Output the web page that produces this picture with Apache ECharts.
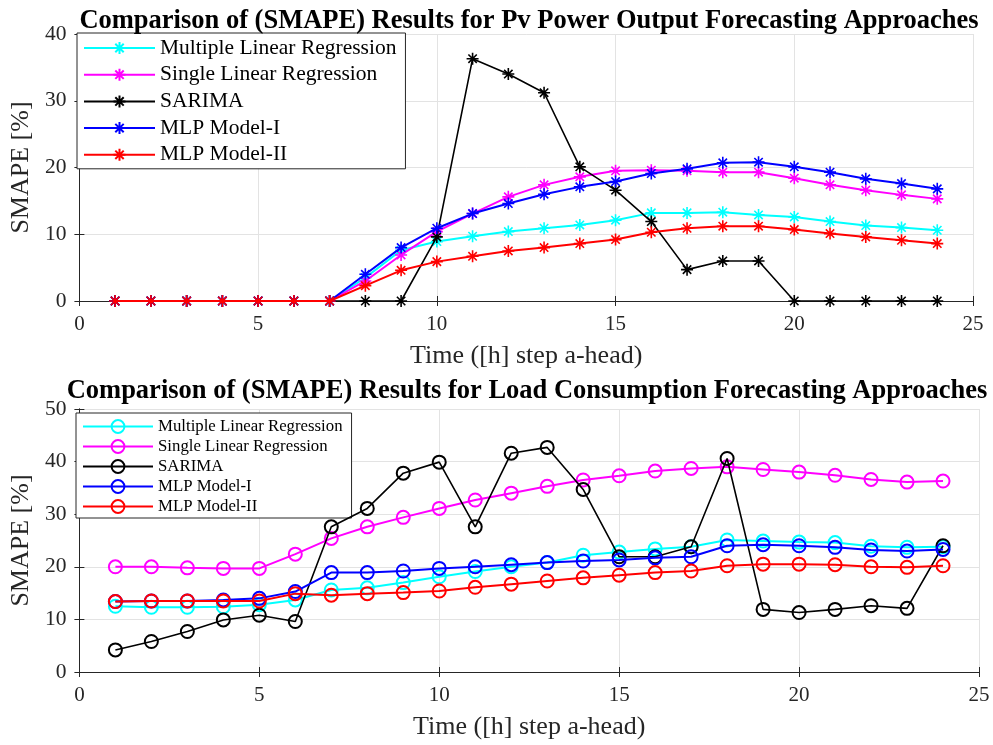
<!DOCTYPE html>
<html>
<head>
<meta charset="utf-8">
<script src="https://cdn.jsdelivr.net/npm/echarts@6/dist/echarts.min.js"></script>
<style>
  html, body { margin: 0; padding: 0; background: #fff; }
  #chart { width: 993px; height: 745px; }
</style>
</head>
<body>
<div id="chart"></div>
<script>
// hours ahead (x values)
const hours = [1,2,3,4,5,6,7,8,9,10,11,12,13,14,15,16,17,18,19,20,21,22,23,24];
const seriesNames = ['Multiple Linear Regression', 'Single Linear Regression', 'SARIMA', 'MLP Model-I', 'MLP Model-II'];
const seriesColors = ['#00ffff', '#ff00ff', '#000000', '#0000ff', '#ff0000'];

// PV power output SMAPE [%]
const mlrPv    = [0,0,0,0,0,0,0,3.5,7.6,8.9,9.7,10.4,10.9,11.4,12.1,13.2,13.2,13.3,12.9,12.6,11.9,11.3,11.0,10.6];
const slrPv    = [0,0,0,0,0,0,0,3.0,6.9,10.4,13.1,15.6,17.4,18.6,19.5,19.6,19.5,19.3,19.3,18.4,17.4,16.6,15.9,15.3];
const sarimaPv = [0,0,0,0,0,0,0,0,0,9.6,36.3,34.0,31.2,20.1,16.6,11.9,4.7,6.0,6.0,0,0,0,0,0];
const mlp1Pv   = [0,0,0,0,0,0,0,4.0,8.0,10.9,13.1,14.6,16.0,17.1,17.9,19.1,19.8,20.7,20.8,20.1,19.3,18.3,17.6,16.8];
const mlp2Pv   = [0,0,0,0,0,0,0,2.3,4.6,5.9,6.7,7.5,8.0,8.6,9.2,10.3,10.9,11.2,11.2,10.7,10.1,9.6,9.1,8.6];

// load consumption SMAPE [%]
const mlrLoad    = [12.5,12.3,12.3,12.4,12.8,13.7,15.6,16.0,17.0,18.1,19.1,20.0,20.8,22.2,22.8,23.4,23.8,25.1,24.9,24.7,24.6,23.9,23.7,23.8];
const slrLoad    = [20.0,20.0,19.8,19.7,19.7,22.4,25.4,27.6,29.4,31.1,32.7,34.0,35.3,36.5,37.3,38.2,38.7,39.0,38.5,38.0,37.4,36.6,36.1,36.3];
const sarimaLoad = [4.2,5.8,7.7,9.9,10.8,9.6,27.6,31.1,37.8,39.9,27.6,41.6,42.7,34.7,21.9,21.9,23.8,40.6,11.9,11.3,11.9,12.6,12.1,24.0];
const mlp1Load   = [13.4,13.5,13.5,13.7,14.0,15.3,18.9,18.9,19.2,19.7,20.0,20.4,20.8,21.1,21.3,21.7,21.9,24.0,24.2,24.0,23.7,23.2,23.0,23.3];
const mlp2Load   = [13.4,13.5,13.5,13.5,13.5,14.9,14.6,14.9,15.1,15.4,16.1,16.7,17.3,17.9,18.4,18.9,19.2,20.2,20.5,20.5,20.4,20.0,19.9,20.2];

const pvData = [mlrPv, slrPv, sarimaPv, mlp1Pv, mlp2Pv];
const loadData = [mlrLoad, slrLoad, sarimaLoad, mlp1Load, mlp2Load];

const FONT = 'Liberation Serif';
const AXIS_COLOR = '#262626';
const ASTERISK = 'path://M10 0L10 20M0 10L20 10M3 3L17 17M3 17L17 3';
// bottom chart series get a trailing space so each legend finds its own series
const LOAD_SUFFIX = ' ';

const chart = echarts.init(document.getElementById('chart'), null, { renderer: 'canvas' });

function makeX(gridIndex) {
  return [
    {
      type: 'value', gridIndex: gridIndex, min: 0, max: 25, interval: 5,
      name: 'Time ([h] step a-head)', nameLocation: 'middle', nameGap: 42,
      nameTextStyle: { fontFamily: FONT, fontSize: 26, color: AXIS_COLOR },
      axisLine: { show: true, lineStyle: { color: AXIS_COLOR, width: 1 } },
      axisTick: { show: true, inside: true, length: 5, lineStyle: { color: AXIS_COLOR } },
      axisLabel: { fontFamily: FONT, fontSize: 21, color: AXIS_COLOR, margin: 13 },
      splitLine: { show: true, lineStyle: { color: '#e3e3e3', width: 1 } }
    },
    {
      type: 'value', gridIndex: gridIndex, position: 'top', min: 0, max: 25, interval: 5,
      axisLine: { show: true, lineStyle: { color: AXIS_COLOR, width: 1 } },
      axisTick: { show: true, inside: true, length: 5, lineStyle: { color: AXIS_COLOR } },
      axisLabel: { show: false }, splitLine: { show: false }
    }
  ];
}

function makeY(gridIndex, maxVal) {
  return [
    {
      type: 'value', gridIndex: gridIndex, min: 0, max: maxVal, interval: 10,
      name: 'SMAPE [%]', nameLocation: 'middle', nameGap: 40, nameRotate: 90,
      nameTextStyle: { fontFamily: FONT, fontSize: 26, color: AXIS_COLOR },
      axisLine: { show: true, lineStyle: { color: AXIS_COLOR, width: 1 } },
      axisTick: { show: true, inside: true, length: 5, lineStyle: { color: AXIS_COLOR } },
      axisLabel: { fontFamily: FONT, fontSize: 21.5, color: AXIS_COLOR, margin: 13 },
      splitLine: { show: true, lineStyle: { color: '#e3e3e3', width: 1 } }
    },
    {
      type: 'value', gridIndex: gridIndex, position: 'right', min: 0, max: maxVal, interval: 10,
      axisLine: { show: true, lineStyle: { color: AXIS_COLOR, width: 1 } },
      axisTick: { show: true, inside: true, length: 5, lineStyle: { color: AXIS_COLOR } },
      axisLabel: { show: false }, splitLine: { show: false }
    }
  ];
}

function buildSeries(dataSets, gridIndex, symbol, symbolSize, suffix) {
  return dataSets.map((vals, i) => ({
    name: seriesNames[i] + suffix,
    type: 'line',
    xAxisIndex: gridIndex * 2,
    yAxisIndex: gridIndex * 2,
    data: hours.map((h, k) => [h, vals[k]]),
    symbol: symbol,
    symbolSize: symbolSize,
    showAllSymbol: true,
    lineStyle: { color: seriesColors[i], width: i === 2 ? 1.6 : 2 },
    itemStyle: { color: 'rgba(0,0,0,0)', borderColor: seriesColors[i], borderWidth: symbol === 'circle' ? 2 : 1.6 },
    emphasis: { disabled: true },
    z: 3 + i
  }));
}

const option = {
  animation: false,
  backgroundColor: '#fff',
  title: [
    {
      text: 'Comparison of (SMAPE) Results for Pv Power Output Forecasting Approaches',
      left: 524, top: 3, textAlign: 'center',
      textStyle: { fontFamily: FONT, fontSize: 26.5, fontWeight: 'bold', color: '#000' }
    },
    {
      text: 'Comparison of (SMAPE) Results for Load Consumption Forecasting Approaches',
      left: 522, top: 373, textAlign: 'center',
      textStyle: { fontFamily: FONT, fontSize: 26.5, fontWeight: 'bold', color: '#000' }
    }
  ],
  grid: [
    { left: 78, top: 34, width: 895, height: 267, show: false },
    { left: 76, top: 409, width: 903, height: 263, show: false }
  ],
  xAxis: [].concat(makeX(0), makeX(1)),
  yAxis: [].concat(makeY(0, 40), makeY(1, 50)),
  legend: [
    {
      data: seriesNames.map(n => ({ name: n })),
      orient: 'vertical', left: 77, top: 33,
      itemWidth: 71, itemHeight: 15, itemGap: 4.7,
      padding: [4, 9, 3, 6],
      backgroundColor: '#fff', borderColor: AXIS_COLOR, borderWidth: 1, borderRadius: 0,
      textStyle: { fontFamily: FONT, fontSize: 21.5, color: '#000', lineHeight: 20 },
      selectedMode: false
    },
    {
      data: seriesNames.map(n => ({ name: n + LOAD_SUFFIX })),
      formatter: name => name.trim(),
      orient: 'vertical', left: 76, top: 413,
      itemWidth: 70, itemHeight: 16, itemGap: 3,
      padding: [5, 9, 3, 6],
      backgroundColor: '#fff', borderColor: AXIS_COLOR, borderWidth: 1, borderRadius: 0,
      textStyle: { fontFamily: FONT, fontSize: 16.8, color: '#000', lineHeight: 16 },
      selectedMode: false
    }
  ],
  series: [].concat(
    buildSeries(pvData, 0, ASTERISK, 12, ''),
    buildSeries(loadData, 1, 'circle', 13, LOAD_SUFFIX)
  )
};

chart.setOption(option);
</script>
</body>
</html>
